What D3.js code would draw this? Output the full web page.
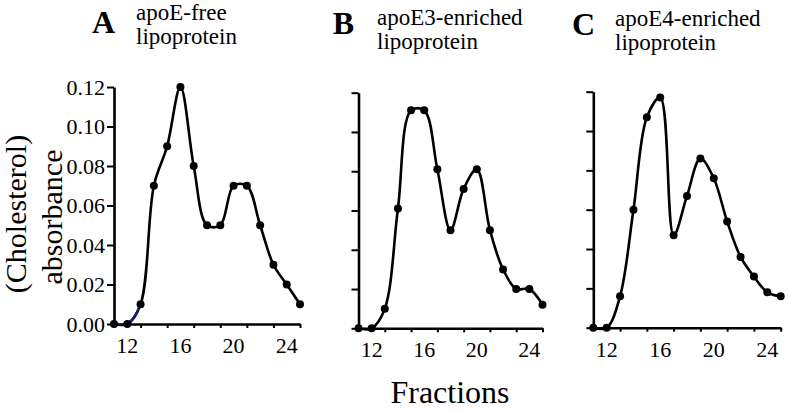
<!DOCTYPE html>
<html lang="en">
<head>
<meta charset="utf-8">
<title>Cholesterol profiles</title>
<script type="text/javascript" src="https://cdn.jsdelivr.net/npm/d3@7"></script>
<style>
body { margin: 0; background: #fff; }
svg { display: block; }
svg text { font-family: "Liberation Serif", "Times New Roman", Times, serif; fill: #000; }
</style>
</head>
<body>
<script type="text/javascript">

//DATA
var fractions = [11, 12, 13, 14, 15, 16, 17, 18, 19, 20, 21, 22, 23, 24, 25];
var apoEFree = [0, 0, 0.010, 0.070, 0.090, 0.120, 0.080, 0.050, 0.050, 0.070, 0.070, 0.050, 0.030, 0.020, 0.010];
var apoE3 = [0, 0, 0.010, 0.061, 0.111, 0.111, 0.081, 0.050, 0.071, 0.081, 0.050, 0.030, 0.020, 0.020, 0.012];
var apoE4 = [0, 0, 0.016, 0.060, 0.107, 0.117, 0.047, 0.067, 0.086, 0.076, 0.054, 0.036, 0.026, 0.018, 0.016];
var panelLetters = ["A", "B", "C"];
var panelTitles = [["apoE-free", "lipoprotein"], ["apoE3-enriched", "lipoprotein"], ["apoE4-enriched", "lipoprotein"]];
var yTicks = [0, 0.02, 0.04, 0.06, 0.08, 0.10, 0.12];
var xLabels = [12, 16, 20, 24];
var xTickMarks = [13, 15, 17, 19, 21, 23, 25];

var w = 789;
var h = 412;

var svg = d3.select("body")
  .append("svg")
  .attr("width", w)
  .attr("height", h);

// panel placement (pixels)
var panels = [
  { values: apoEFree, left: 114, right: 300, bottom: 324, top: 87,
    letterX: 115, letterY: 33, titleX: 136, titleY: 20, labels: true },
  { values: apoE3, left: 358.5, right: 542.5, bottom: 328.3, top: 92.7,
    letterX: 354, letterY: 34, titleX: 377, titleY: 25, labels: false },
  { values: apoE4, left: 593.3, right: 780.7, bottom: 327.7, top: 91.7,
    letterX: 595, letterY: 35, titleX: 615, titleY: 26, labels: false }
];

panels.forEach(function(p, i) {
  var x = d3.scaleLinear().domain([11, 25]).range([p.left, p.right]);
  var y = d3.scaleLinear().domain([0, 0.12]).range([p.bottom, p.top]);
  var g = svg.append("g");

  //Y AXIS
  var yAxis = d3.axisLeft(y)
    .tickValues(yTicks)
    .tickSize(7)
    .tickSizeOuter(0)
    .tickFormat(p.labels ? d3.format(".2f") : "");
  var ya = g.append("g")
    .attr("transform", "translate(" + p.left + ",0)")
    .attr("font-family", null)
    .call(yAxis);
  ya.select(".domain").attr("stroke-width", 2.6);
  ya.selectAll(".tick line").attr("stroke-width", 2);
  ya.selectAll(".tick text")
    .attr("font-size", "22px")
    .attr("x", -9)
    .attr("dy", "0.34em");

  //X AXIS marks
  var xAxis = d3.axisBottom(x)
    .tickValues(xTickMarks)
    .tickSize(4)
    .tickSizeOuter(0)
    .tickFormat("");
  var xa = g.append("g")
    .attr("transform", "translate(0," + p.bottom + ")")
    .call(xAxis);
  xa.select(".domain").attr("stroke-width", 2.6);
  xa.selectAll(".tick line").attr("stroke-width", 2);

  //X tick labels
  g.selectAll("text.xlab")
    .data(xLabels)
    .enter()
    .append("text")
    .attr("class", "xlab")
    .attr("x", function(d) { return x(d); })
    .attr("y", p.bottom + 29)
    .attr("text-anchor", "middle")
    .attr("font-size", "22px")
    .text(function(d) { return d; });

  //CURVE
  var pts = fractions.map(function(f, j) { return [f, p.values[j]]; });
  var line = d3.line()
    .x(function(d) { return x(d[0]); })
    .y(function(d) { return y(d[1]); })
    .curve(d3.curveCatmullRom.alpha(0.5));

  g.append("path")
    .datum(pts)
    .attr("d", line)
    .attr("fill", "none")
    .attr("stroke", "#000")
    .attr("stroke-width", 2.6)
    .attr("stroke-linejoin", "round");

  if (i === 0) {
    // first stretch of panel A is drawn in dark blue
    svg.append("clipPath")
      .attr("id", "clipA")
      .append("rect")
      .attr("x", x(11) - 5)
      .attr("y", y(0.02))
      .attr("width", x(13) - x(11) + 3)
      .attr("height", 40);
    g.append("path")
      .datum(pts)
      .attr("d", line)
      .attr("fill", "none")
      .attr("stroke", "#1c1c7a")
      .attr("stroke-width", 2.6)
      .attr("clip-path", "url(#clipA)");
  }

  g.selectAll("circle")
    .data(pts)
    .enter()
    .append("circle")
    .attr("cx", function(d) { return x(d[0]); })
    .attr("cy", function(d) { return y(d[1]); })
    .attr("r", 4)
    .attr("fill", "#000");

  //TITLES
  g.append("text")
    .attr("x", p.letterX)
    .attr("y", p.letterY)
    .attr("text-anchor", "end")
    .attr("font-size", "32px")
    .attr("font-weight", "bold")
    .text(panelLetters[i]);

  g.selectAll("text.title")
    .data(panelTitles[i])
    .enter()
    .append("text")
    .attr("class", "title")
    .attr("x", p.titleX)
    .attr("y", function(d, k) { return p.titleY + k * 24; })
    .attr("font-size", "23px")
    .text(function(d) { return d; });
});

//AXIS TITLES
svg.append("text")
  .attr("transform", "translate(26,214) rotate(-90)")
  .attr("text-anchor", "middle")
  .attr("font-size", "30px")
  .text("(Cholesterol)");

svg.append("text")
  .attr("transform", "translate(62,217) rotate(-90)")
  .attr("text-anchor", "middle")
  .attr("font-size", "30px")
  .text("absorbance");

svg.append("text")
  .attr("x", 450)
  .attr("y", 403)
  .attr("text-anchor", "middle")
  .attr("font-size", "32px")
  .text("Fractions");

</script>
</body>
</html>
